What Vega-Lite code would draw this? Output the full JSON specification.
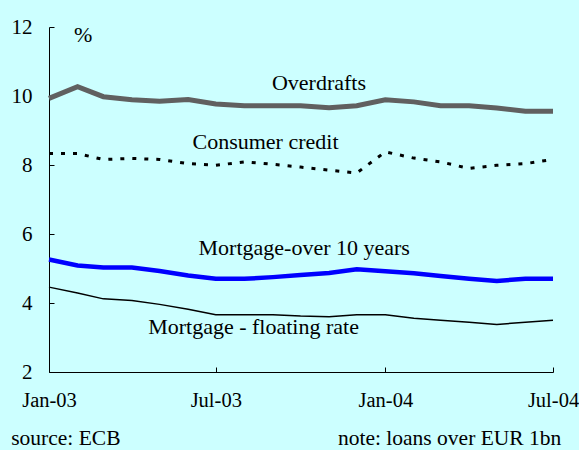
{
  "$schema": "https://vega.github.io/schema/vega-lite/v6.json",
  "width": 504,
  "height": 345,
  "autosize": {"type": "none"},
  "padding": {"left": 49, "top": 27, "right": 26, "bottom": 78},
  "background": "#CCFFFF",
  "config": {
    "view": {"stroke": null}
  },
  "datasets": {
    "rates": [
      {"date": "2003-01-01", "series": "Overdrafts", "value": 9.93},
      {"date": "2003-02-01", "series": "Overdrafts", "value": 10.27},
      {"date": "2003-03-01", "series": "Overdrafts", "value": 9.98},
      {"date": "2003-04-01", "series": "Overdrafts", "value": 9.89},
      {"date": "2003-05-01", "series": "Overdrafts", "value": 9.85},
      {"date": "2003-06-01", "series": "Overdrafts", "value": 9.9},
      {"date": "2003-07-01", "series": "Overdrafts", "value": 9.77},
      {"date": "2003-08-01", "series": "Overdrafts", "value": 9.72},
      {"date": "2003-09-01", "series": "Overdrafts", "value": 9.72},
      {"date": "2003-10-01", "series": "Overdrafts", "value": 9.72},
      {"date": "2003-11-01", "series": "Overdrafts", "value": 9.66},
      {"date": "2003-12-01", "series": "Overdrafts", "value": 9.72},
      {"date": "2004-01-01", "series": "Overdrafts", "value": 9.89},
      {"date": "2004-02-01", "series": "Overdrafts", "value": 9.83},
      {"date": "2004-03-01", "series": "Overdrafts", "value": 9.72},
      {"date": "2004-04-01", "series": "Overdrafts", "value": 9.72},
      {"date": "2004-05-01", "series": "Overdrafts", "value": 9.65},
      {"date": "2004-06-01", "series": "Overdrafts", "value": 9.56},
      {"date": "2004-07-01", "series": "Overdrafts", "value": 9.56},
      {"date": "2003-01-01", "series": "Consumer credit", "value": 8.33},
      {"date": "2003-02-01", "series": "Consumer credit", "value": 8.33},
      {"date": "2003-03-01", "series": "Consumer credit", "value": 8.16},
      {"date": "2003-04-01", "series": "Consumer credit", "value": 8.19},
      {"date": "2003-05-01", "series": "Consumer credit", "value": 8.16},
      {"date": "2003-06-01", "series": "Consumer credit", "value": 8.04},
      {"date": "2003-07-01", "series": "Consumer credit", "value": 7.99},
      {"date": "2003-08-01", "series": "Consumer credit", "value": 8.09},
      {"date": "2003-09-01", "series": "Consumer credit", "value": 8.02},
      {"date": "2003-10-01", "series": "Consumer credit", "value": 7.94},
      {"date": "2003-11-01", "series": "Consumer credit", "value": 7.85},
      {"date": "2003-12-01", "series": "Consumer credit", "value": 7.77},
      {"date": "2004-01-01", "series": "Consumer credit", "value": 8.38},
      {"date": "2004-02-01", "series": "Consumer credit", "value": 8.2},
      {"date": "2004-03-01", "series": "Consumer credit", "value": 8.09},
      {"date": "2004-04-01", "series": "Consumer credit", "value": 7.9},
      {"date": "2004-05-01", "series": "Consumer credit", "value": 7.99},
      {"date": "2004-06-01", "series": "Consumer credit", "value": 8.04},
      {"date": "2004-07-01", "series": "Consumer credit", "value": 8.16},
      {"date": "2003-01-01", "series": "Mortgage-over 10 years", "value": 5.26},
      {"date": "2003-02-01", "series": "Mortgage-over 10 years", "value": 5.09},
      {"date": "2003-03-01", "series": "Mortgage-over 10 years", "value": 5.03},
      {"date": "2003-04-01", "series": "Mortgage-over 10 years", "value": 5.03},
      {"date": "2003-05-01", "series": "Mortgage-over 10 years", "value": 4.93},
      {"date": "2003-06-01", "series": "Mortgage-over 10 years", "value": 4.8},
      {"date": "2003-07-01", "series": "Mortgage-over 10 years", "value": 4.7},
      {"date": "2003-08-01", "series": "Mortgage-over 10 years", "value": 4.7},
      {"date": "2003-09-01", "series": "Mortgage-over 10 years", "value": 4.75},
      {"date": "2003-10-01", "series": "Mortgage-over 10 years", "value": 4.81},
      {"date": "2003-11-01", "series": "Mortgage-over 10 years", "value": 4.87},
      {"date": "2003-12-01", "series": "Mortgage-over 10 years", "value": 4.98},
      {"date": "2004-01-01", "series": "Mortgage-over 10 years", "value": 4.92},
      {"date": "2004-02-01", "series": "Mortgage-over 10 years", "value": 4.86},
      {"date": "2004-03-01", "series": "Mortgage-over 10 years", "value": 4.78},
      {"date": "2004-04-01", "series": "Mortgage-over 10 years", "value": 4.7},
      {"date": "2004-05-01", "series": "Mortgage-over 10 years", "value": 4.64},
      {"date": "2004-06-01", "series": "Mortgage-over 10 years", "value": 4.7},
      {"date": "2004-07-01", "series": "Mortgage-over 10 years", "value": 4.7},
      {"date": "2003-01-01", "series": "Mortgage - floating rate", "value": 4.46},
      {"date": "2003-02-01", "series": "Mortgage - floating rate", "value": 4.29},
      {"date": "2003-03-01", "series": "Mortgage - floating rate", "value": 4.12},
      {"date": "2003-04-01", "series": "Mortgage - floating rate", "value": 4.07},
      {"date": "2003-05-01", "series": "Mortgage - floating rate", "value": 3.96},
      {"date": "2003-06-01", "series": "Mortgage - floating rate", "value": 3.82},
      {"date": "2003-07-01", "series": "Mortgage - floating rate", "value": 3.66},
      {"date": "2003-08-01", "series": "Mortgage - floating rate", "value": 3.66},
      {"date": "2003-09-01", "series": "Mortgage - floating rate", "value": 3.66},
      {"date": "2003-10-01", "series": "Mortgage - floating rate", "value": 3.62},
      {"date": "2003-11-01", "series": "Mortgage - floating rate", "value": 3.6},
      {"date": "2003-12-01", "series": "Mortgage - floating rate", "value": 3.66},
      {"date": "2004-01-01", "series": "Mortgage - floating rate", "value": 3.66},
      {"date": "2004-02-01", "series": "Mortgage - floating rate", "value": 3.56},
      {"date": "2004-03-01", "series": "Mortgage - floating rate", "value": 3.5},
      {"date": "2004-04-01", "series": "Mortgage - floating rate", "value": 3.44},
      {"date": "2004-05-01", "series": "Mortgage - floating rate", "value": 3.38},
      {"date": "2004-06-01", "series": "Mortgage - floating rate", "value": 3.44},
      {"date": "2004-07-01", "series": "Mortgage - floating rate", "value": 3.5}
    ],
    "notes": [
      {"date": "2003-02-07", "value": 11.76, "label": "%"},
      {"date": "2003-10-21", "value": 10.37, "label": "Overdrafts"},
      {"date": "2003-08-24", "value": 8.66, "label": "Consumer credit"},
      {"date": "2003-10-05", "value": 5.59, "label": "Mortgage-over 10 years"},
      {"date": "2003-08-11", "value": 3.3, "label": "Mortgage - floating rate"}
    ],
    "footLeft": [
      {"date": "2002-11-21", "value": 0.05, "label": "source: ECB"}
    ],
    "footRight": [
      {"date": "2004-07-10", "value": 0.05, "label": "note: loans over EUR 1bn"}
    ]
  },
  "encoding": {
    "x": {
      "field": "date",
      "type": "temporal",
      "scale": {"type": "utc", "domain": [{"year": 2003, "month": 1, "date": 1, "utc": true}, {"year": 2004, "month": 7, "date": 1, "utc": true}]},
      "axis": {
        "title": null,
        "grid": false,
        "values": [
          {"year": 2003, "month": 1, "date": 1, "utc": true},
          {"year": 2003, "month": 7, "date": 1, "utc": true},
          {"year": 2004, "month": 1, "date": 1, "utc": true},
          {"year": 2004, "month": 7, "date": 1, "utc": true}
        ],
        "labelExpr": "utcFormat(datum.value, '%b-%y')",
        "labelFont": "Liberation Serif",
        "labelFontSize": 20.5,
        "labelColor": "black",
        "labelFlush": false,
        "labelPadding": 23,
        "tickSize": -5,
        "tickColor": "black",
        "domainColor": "black",
        "labelOverlap": false
      }
    },
    "y": {
      "field": "value",
      "type": "quantitative",
      "scale": {"domain": [2, 12], "nice": false, "zero": false},
      "axis": {
        "title": null,
        "grid": false,
        "values": [2, 4, 6, 8, 10, 12],
        "labelFont": "Liberation Serif",
        "labelFontSize": 21,
        "labelColor": "black",
        "labelPadding": 22,
        "tickSize": -5,
        "tickColor": "black",
        "domainColor": "black"
      }
    }
  },
  "layer": [
    {
      "data": {"name": "rates"},
      "transform": [{"filter": "datum.series === 'Overdrafts'"}],
      "mark": {"type": "line", "color": "#606060", "strokeWidth": 5}
    },
    {
      "data": {"name": "rates"},
      "transform": [{"filter": "datum.series === 'Consumer credit'"}],
      "mark": {"type": "line", "color": "black", "strokeWidth": 3, "strokeDash": [4, 8]}
    },
    {
      "data": {"name": "rates"},
      "transform": [{"filter": "datum.series === 'Mortgage-over 10 years'"}],
      "mark": {"type": "line", "color": "#0000FF", "strokeWidth": 4.5}
    },
    {
      "data": {"name": "rates"},
      "transform": [{"filter": "datum.series === 'Mortgage - floating rate'"}],
      "mark": {"type": "line", "color": "black", "strokeWidth": 1.5}
    },
    {
      "data": {"name": "notes"},
      "mark": {"type": "text", "font": "Liberation Serif", "fontSize": 22, "baseline": "middle", "align": "center", "color": "black"},
      "encoding": {"text": {"field": "label"}}
    },
    {
      "data": {"name": "footLeft"},
      "mark": {"type": "text", "font": "Liberation Serif", "fontSize": 21.5, "baseline": "middle", "align": "left", "color": "black"},
      "encoding": {"text": {"field": "label"}}
    },
    {
      "data": {"name": "footRight"},
      "mark": {"type": "text", "font": "Liberation Serif", "fontSize": 21.5, "baseline": "middle", "align": "right", "color": "black"},
      "encoding": {"text": {"field": "label"}}
    }
  ]
}
